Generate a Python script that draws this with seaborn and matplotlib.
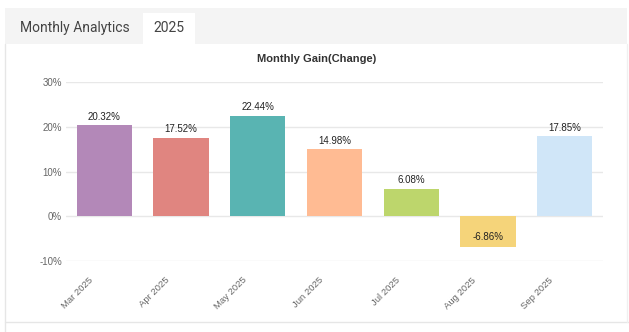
import matplotlib
matplotlib.use("Agg")
import matplotlib.pyplot as plt
import matplotlib.transforms as mtransforms
import seaborn as sns
import pandas as pd
from matplotlib.patches import Rectangle
from matplotlib.lines import Line2D

months = ["Mar 2025", "Apr 2025", "May 2025", "Jun 2025", "Jul 2025", "Aug 2025", "Sep 2025"]
gains = [20.32, 17.52, 22.44, 14.98, 6.08, -6.86, 17.85]
colors = ["#b388b8", "#e08580", "#59b4b2", "#ffbb93", "#bdd66c", "#f5d47a", "#d0e6f8"]
yticks = [-10, 0, 10, 20, 30]

sns.set_theme(style="white")
plt.rcParams["font.family"] = ["Liberation Sans", "DejaVu Sans"]

W, H = 629, 332
fig = plt.figure(figsize=(W / 100, H / 100), dpi=100)
fig.patch.set_facecolor("white")

def px(x0, y0, w, h):
    return (x0 / W, 1 - (y0 + h) / H, w / W, h / H)

# header strip and tabs
fig.patches.append(Rectangle((5 / W, 1 - 44 / H), 622 / W, 36 / H, transform=fig.transFigure,
                             facecolor="#f4f4f4", edgecolor="none", zorder=0))
fig.patches.append(Rectangle((143 / W, 1 - 44 / H), 52 / W, 31 / H, transform=fig.transFigure,
                             facecolor="white", edgecolor="none", zorder=1))
fig.text(20 / W, 1 - 28 / H, "Monthly Analytics", fontsize=10, color="#444444",
         family=["Roboto", "DejaVu Sans"], va="center", ha="left")
fig.text(153 / W, 1 - 28 / H, "2025", fontsize=10, color="#444444",
         family=["Roboto", "DejaVu Sans"], va="center", ha="left")
# card borders
fig.lines.append(Line2D([5 / W, 5 / W], [1 - 44 / H, 0], transform=fig.transFigure, color="#e6e6e6", lw=1))
fig.lines.append(Line2D([5 / W, 1], [1 - 322 / H, 1 - 322 / H], transform=fig.transFigure, color="#e6e6e6", lw=1))
fig.lines.append(Line2D([627 / W, 627 / W], [1 - 44 / H, 1 - 322 / H], transform=fig.transFigure, color="#f0f0f0", lw=1))

fig.text(317 / W, 1 - 59 / H, "Monthly Gain(Change)", fontsize=8, fontweight="bold",
         color="#333333", ha="center", va="center")

ax = fig.add_axes(px(66, 82, 537, 179))
df = pd.DataFrame({"month": months, "gain": gains})
sns.barplot(data=df, x="month", y="gain", hue="month", palette=colors, legend=False,
            width=0.72, ax=ax, saturation=1, zorder=3, linewidth=0, edgecolor="none")

ax.set_ylim(-10, 30)
ax.set_yticks(yticks)
ax.set_yticklabels([f"{v}%" for v in yticks])
ax.yaxis.grid(True, color="#e8e8e8", lw=1)
ax.set_axisbelow(True)
for s in ax.spines.values():
    s.set_visible(False)
ax.set_xlabel("")
ax.set_ylabel("")
ax.tick_params(axis="y", labelsize=7, colors="#666666", length=0, pad=3)
ax.tick_params(axis="x", labelsize=6.8, colors="#666666", length=0, pad=4)
offset = mtransforms.ScaledTranslation(-16 / 100, -9 / 100, fig.dpi_scale_trans)
for lab in ax.get_xticklabels():
    lab.set_rotation(45)
    lab.set_ha("right")
    lab.set_rotation_mode("anchor")
    lab.set_transform(lab.get_transform() + offset)

for i, v in enumerate(gains):
    if v >= 0:
        ax.text(i, v + 0.8, f"{v:.2f}%", ha="center", va="bottom", fontsize=7, color="#222222", zorder=4)
    else:
        ax.text(i, v + 2.3, f"{v:.2f}%", ha="center", va="center", fontsize=7, color="#222222", zorder=4)

fig.savefig("out.png", dpi=100)
